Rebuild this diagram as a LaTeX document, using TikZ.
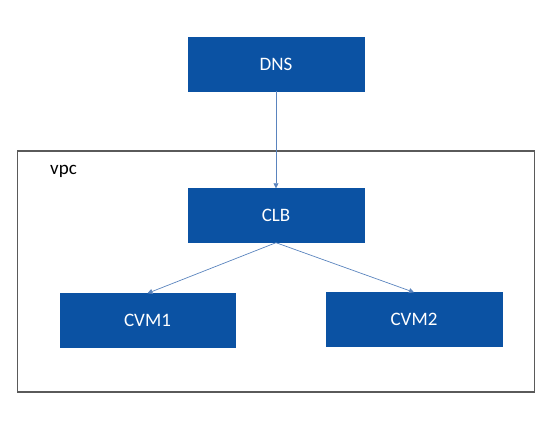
\documentclass[tikz,border=0pt]{standalone}
\usepackage{fontspec}
\setmainfont{Carlito}
\usepackage{xcolor}
\usepackage{tikz}
\usetikzlibrary{arrows.meta, positioning}

\definecolor{boxblue}{HTML}{0B52A3}
\definecolor{linkblue}{HTML}{5A84BE}
\definecolor{framegray}{HTML}{5A5A5A}

\begin{document}
\begin{tikzpicture}[x=1pt, y=-1pt,
    hostbox/.style={draw=boxblue, fill=boxblue, text=white, minimum width=176pt, minimum height=54pt, inner sep=0pt, font=\fontsize{19}{22}\selectfont},
    link/.style={draw=linkblue, line width=0.7pt, -{Triangle[length=5pt, width=5pt]}}]
        \useasboundingbox (0,0) rectangle (544,436);

        % vpc frame
        \node[draw=framegray, line width=1.1pt, minimum width=517pt, minimum height=241pt, inner sep=0pt] (vpc) at (276,271.5) {};
        \node[anchor=west, inner sep=0pt, font=\fontsize{19}{22}\selectfont] (vpcname) at (50,171) {vpc};

        % Boxes
        \node[hostbox] (dns) at (276, 64) {DNS};
        \node[hostbox] (clb) at (276, 215.5) {CLB};
        \node[hostbox, minimum width=175pt] (cvm1) at (147.5, 320.5) {CVM1};
        \node[hostbox] (cvm2) at (414, 319.5) {CVM2};

        % Arrows
        \draw[link] (dns.south) -- (clb.north);
        \draw[link] (clb.south) -- (cvm1.north);
        \draw[link] (clb.south) -- (cvm2.north);
    \end{tikzpicture}
\end{document}
